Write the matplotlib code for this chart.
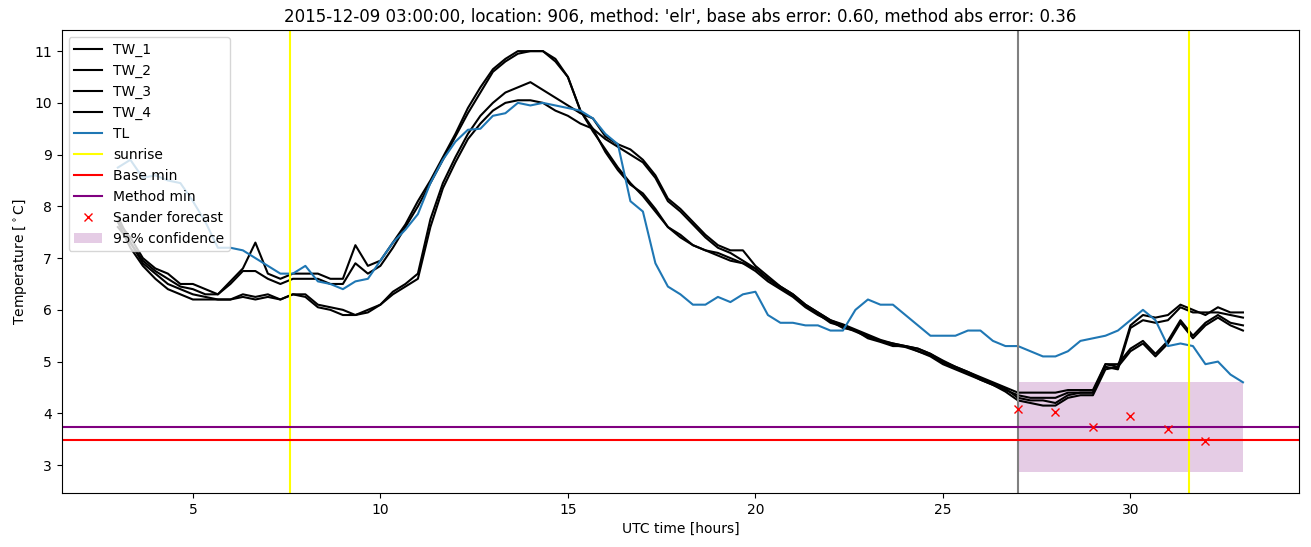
import numpy as np
import matplotlib
matplotlib.use('Agg')
from matplotlib import pyplot as plt

# 20 minute grid, 03:00 .. 33:00
hours = 3 + np.arange(91) / 3.0

tl = [8.75, 8.9, 8.55,  8.6, 8.5, 8.45,  8.1, 7.7, 7.2,  7.2, 7.15, 7.0,
      6.85, 6.7, 6.7,  6.85, 6.55, 6.5,  6.4, 6.55, 6.6,  6.95, 7.3, 7.55,
      7.85, 8.45, 8.9,  9.25, 9.48, 9.5,  9.75, 9.8, 10.0,  9.95, 10.0, 9.95,
      9.9, 9.85, 9.7,  9.4, 9.2, 8.1,  7.9, 6.9, 6.45,  6.3, 6.1, 6.1,
      6.25, 6.15, 6.3,  6.35, 5.9, 5.75,  5.75, 5.7, 5.7,  5.6, 5.6, 6.0,
      6.2, 6.1, 6.1,  5.9, 5.7, 5.5,  5.5, 5.5, 5.6,  5.6, 5.4, 5.3,
      5.3, 5.2, 5.1,  5.1, 5.2, 5.4,  5.45, 5.5, 5.6,  5.8, 6.0, 5.8,
      5.3, 5.35, 5.3,  4.95, 5.0, 4.75,  4.6]

tw_1 = [7.7, 7.4, 7.0,  6.8, 6.7, 6.5,  6.5, 6.4, 6.3,  6.55, 6.8, 7.3,
        6.7, 6.6, 6.7,  6.7, 6.7, 6.6,  6.6, 7.25, 6.85,  6.95, 7.3, 7.65,
        8.1, 8.5, 8.95,  9.4, 9.9, 10.3,  10.65, 10.85, 11.0,  11.0, 11.0, 10.8,
        10.5, 9.85, 9.5,  9.05, 8.7, 8.42,  8.25, 7.95, 7.6,  7.45, 7.25, 7.15,
        7.1, 7.0, 6.9,  6.8, 6.6, 6.45,  6.3, 6.1, 5.95,  5.8, 5.7, 5.6,
        5.5, 5.4, 5.35,  5.3, 5.25, 5.15,  5.0, 4.9, 4.8,  4.7, 4.6, 4.5,
        4.4, 4.4, 4.4,  4.4, 4.45, 4.45,  4.45, 4.95, 4.9,  5.7, 5.9, 5.85,
        5.9, 6.1, 6.0,  5.9, 6.05, 5.95,  5.95]

tw_2 = [7.6, 7.3, 6.95,  6.75, 6.6, 6.45,  6.4, 6.3, 6.3,  6.5, 6.75, 6.75,
        6.6, 6.5, 6.6,  6.6, 6.6, 6.5,  6.5, 6.9, 6.7,  6.85, 7.2, 7.6,
        8.0, 8.45, 8.9,  9.35, 9.8, 10.2,  10.6, 10.8, 10.95,  11.0, 11.0, 10.85,
        10.5, 9.85, 9.45,  9.1, 8.75, 8.45,  8.2, 7.9, 7.6,  7.4, 7.25, 7.15,
        7.05, 6.95, 6.9,  6.75, 6.55, 6.4,  6.25, 6.05, 5.9,  5.78, 5.65, 5.6,
        5.45, 5.38, 5.3,  5.3, 5.2, 5.1,  4.95, 4.85, 4.75,  4.65, 4.55, 4.45,
        4.35, 4.3, 4.3,  4.3, 4.4, 4.4,  4.4, 4.9, 4.85,  5.65, 5.8, 5.75,
        5.8, 6.05, 5.95,  5.95, 5.95, 5.9,  5.85]

tw_3 = [7.8, 7.3, 6.9,  6.7, 6.5, 6.4,  6.3, 6.25, 6.2,  6.2, 6.3, 6.25,
        6.3, 6.2, 6.3,  6.3, 6.1, 6.05,  6.0, 5.9, 6.0,  6.1, 6.35, 6.5,
        6.7, 7.75, 8.45,  8.95, 9.4, 9.75,  10.0, 10.2, 10.3,  10.4, 10.25, 10.1,
        9.95, 9.8, 9.7,  9.35, 9.2, 9.1,  8.9, 8.6, 8.15,  7.95, 7.7, 7.45,
        7.25, 7.15, 7.15,  6.85, 6.65, 6.45,  6.3, 6.1, 5.95,  5.8, 5.72, 5.62,
        5.52, 5.42, 5.35,  5.3, 5.25, 5.15,  5.02, 4.9, 4.8,  4.68, 4.58, 4.48,
        4.3, 4.25, 4.25,  4.2, 4.35, 4.4,  4.4, 4.95, 4.95,  5.25, 5.4, 5.15,
        5.4, 5.8, 5.5,  5.75, 5.9, 5.75,  5.7]

tw_4 = [7.7, 7.2, 6.85,  6.6, 6.4, 6.3,  6.2, 6.2, 6.2,  6.2, 6.25, 6.2,
        6.25, 6.2, 6.3,  6.25, 6.05, 6.0,  5.9, 5.9, 5.95,  6.1, 6.3, 6.45,
        6.6, 7.6, 8.35,  8.85, 9.3, 9.6,  9.85, 10.0, 10.05,  10.05, 10.0, 9.85,
        9.75, 9.6, 9.5,  9.3, 9.15, 9.0,  8.85, 8.55, 8.1,  7.9, 7.65, 7.4,
        7.2, 7.1, 6.95,  6.8, 6.6, 6.42,  6.28, 6.08, 5.92,  5.75, 5.68, 5.58,
        5.48, 5.4, 5.32,  5.28, 5.2, 5.12,  4.98, 4.88, 4.78,  4.65, 4.55, 4.42,
        4.25, 4.2, 4.15,  4.15, 4.3, 4.35,  4.35, 4.85, 4.9,  5.2, 5.35, 5.1,
        5.35, 5.75, 5.45,  5.7, 5.85, 5.7,  5.6]

sunrise = [7.6, 31.55]
forecast_start = 27
base_min = 3.48
method_min = 3.74
sander_hours = [27, 28, 29, 30, 31, 32]
sander_temp = [4.09, 4.02, 3.73, 3.94, 3.69, 3.47]
conf_hours = [27, 33]
conf_low = 2.87
conf_high = 4.60

fig, ax = plt.subplots(figsize=(13.11, 5.47), dpi=100)
fig.subplots_adjust(left=0.047, right=0.991, top=0.945, bottom=0.099)

for name, vals in zip(['TW_1', 'TW_2', 'TW_3', 'TW_4'], [tw_1, tw_2, tw_3, tw_4]):
    ax.plot(hours, vals, color='black', label=name)
ax.plot(hours, tl, label='TL')

ax.axvline(sunrise[0], color='yellow', label='sunrise')
ax.axvline(sunrise[1], color='yellow')
ax.axvline(forecast_start, color='gray')
ax.axhline(base_min, color='red', label='Base min')
ax.axhline(method_min, color='purple', label='Method min')
ax.plot(sander_hours, sander_temp, 'rx', label='Sander forecast')
ax.fill_between(conf_hours, conf_low, conf_high, color='purple', alpha=0.2,
                linewidth=0, label='95% confidence')

ax.set_title("2015-12-09 03:00:00, location: 906, method: 'elr', "
             "base abs error: 0.60, method abs error: 0.36")
ax.set_xlabel('UTC time [hours]')
ax.set_ylabel('Temperature [$^\\circ$C]')
ax.legend(loc='upper left')

fig.savefig('out.png')
